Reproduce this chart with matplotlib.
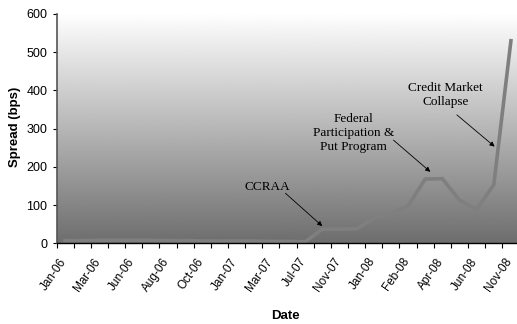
#spread chart with annotated events
import matplotlib
matplotlib.use("Agg")
import matplotlib.pyplot as plt
import matplotlib.transforms as mtransforms
import numpy as np

# category labels (every other category is labelled on the axis)
labels = ["Jan-06", "Mar-06", "Jun-06", "Aug-06", "Oct-06", "Jan-07", "Mar-07",
          "Jul-07", "Nov-07", "Jan-08", "Feb-08", "Apr-08", "Jun-08", "Nov-08"]
# spread in bps, one value per category (27 categories)
spread = [7, 7, 8, 8, 8, 8, 7, 7, 6, 6, 6, 6, 5, 5, 4, 37, 37, 38, 65, 78, 98,
          168, 169, 113, 89, 153, 530]

events = ["CCRAA", "Federal\nParticipation &\nPut Program", "Credit Market\nCollapse"]
event_text_xy = [(11.8, 147), (16.8, 288), (22.2, 388)]
event_tail = [(12.85, 131), (19.15, 270), (22.85, 336)]
event_tip = [(15.0, 45), (21.3, 187), (25.05, 253)]

fig = plt.figure(figsize=(5.17, 3.24), dpi=100)
ax = fig.add_axes([56.5/517, 80.7/324, 463/517, 229.3/324])

n = len(spread)
x = np.arange(n)

# background gradient, white at the top to grey at the bottom
grad = np.linspace(1.0, 0.43, 256).reshape(-1, 1)
ax.imshow(grad, cmap="gray", vmin=0, vmax=1, aspect="auto",
          extent=[0, 1, 0, 1], transform=ax.transAxes, zorder=0)

ax.plot(x, spread, color="#7f7f7f", lw=2.6, solid_joinstyle="miter", zorder=2)

ax.set_xlim(-0.5, n - 0.5)
ax.set_ylim(0, 600)

# tick marks between categories, labels on every second category
ax.set_xticks(np.arange(n + 1) - 0.5)
ax.set_xticklabels([])
ax.tick_params(axis="x", which="major", length=3.5, width=0.8, direction="out")
ax.set_xticks(np.arange(0, n, 2), minor=True)
ax.set_xticklabels(labels, minor=True, rotation=55, ha="right", va="top",
                   rotation_mode="anchor", fontsize=8.5, family="Liberation Sans")
ax.tick_params(axis="x", which="minor", length=0, pad=9)
shift = mtransforms.ScaledTranslation(-6/100, 0, fig.dpi_scale_trans)
for t in ax.get_xticklabels(minor=True):
    t.set_transform(t.get_transform() + shift)

ax.set_yticks(np.arange(0, 601, 100))
ax.tick_params(axis="y", length=3, width=0.8, direction="out", labelsize=9)
for t in ax.get_yticklabels():
    t.set_family("Liberation Sans")

for s in ["top", "right"]:
    ax.spines[s].set_visible(False)
ax.spines["bottom"].set_linewidth(1.0)
ax.spines["left"].set_color("#555555")
ax.spines["left"].set_linewidth(1.2)

fig.text(15/517, 1 - 127/324, "Spread (bps)", rotation=90, ha="center", va="center",
         fontsize=9.5, fontweight="bold", family="Liberation Sans")
fig.text(285/517, 1 - 316/324, "Date", ha="center", va="center",
         fontsize=9.5, fontweight="bold", family="Liberation Sans")

for txt, pos, tail, tip in zip(events, event_text_xy, event_tail, event_tip):
    ax.text(pos[0], pos[1], txt, ha="center", va="center", multialignment="center",
            fontsize=9.5, family="Liberation Serif", linespacing=1.2, zorder=3)
    ax.annotate("", xy=tip, xytext=tail,
                arrowprops=dict(arrowstyle="-|>", color="black", lw=0.6,
                                mutation_scale=7, shrinkA=0, shrinkB=0), zorder=3)

fig.savefig("out.png", dpi=100)
